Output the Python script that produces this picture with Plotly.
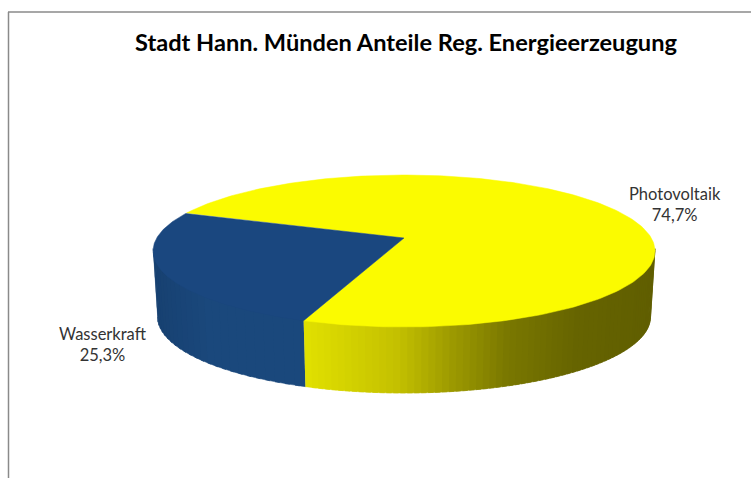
import numpy as np
import plotly.graph_objects as go

# Data
categories = ["Wasserkraft", "Photovoltaik"]
shares = [25.3, 74.7]
labels_de = ["25,3%", "74,7%"]
title_text = "Stadt Hann. Münden Anteile Reg. Energieerzeugung"

# Style / geometry of the 3D look (pixel canvas)
W, H = 751, 478
TOP = dict(cx=404.0, cy=251.0, rx=251.0, ry=76.0)
BOT = dict(cx=404.0, cy=317.0, rx=246.5, ry=76.0)
PERSP = 0.171            # shift of the pie centre towards the far edge
START = 159.0            # first slice start, degrees (counter-clockwise)
BLUE_TOP, YELLOW_TOP = "#1a477f", "#fbfb00"
BLUE_STOPS = [(150, (23, 64, 112)), (210, (26, 72, 124)), (305, (26, 72, 124))]
YELLOW_STOPS = [(303, (226, 226, 0)), (400, (196, 192, 0)), (450, (160, 157, 0)),
                (510, (122, 120, 0)), (580, (102, 100, 0)), (655, (96, 94, 0))]


def image_unit(theta_deg):
    """Circle point in the pie plane -> unit circle on screen, with perspective."""
    t = np.radians(theta_deg)
    u, v = np.cos(t), np.sin(t)
    d = 1 + PERSP * v
    return u * np.sqrt(1 - PERSP ** 2) / d, (v + PERSP) / d


def place(e, u, v):
    return e["cx"] + e["rx"] * u, e["cy"] - e["ry"] * v


def lerp_colour(stops, x):
    xs = [s[0] for s in stops]
    rgb = [np.interp(x, xs, [s[1][i] for s in stops]) for i in range(3)]
    return "rgb({:.0f},{:.0f},{:.0f})".format(*rgb)


fractions = np.array(shares) / sum(shares)
a0 = START
a1 = a0 + fractions[0] * 360
a2 = a1 + fractions[1] * 360

fig = go.Figure()


def add_poly(xs, ys, colour, width=0.5):
    fig.add_trace(go.Scatter(x=xs, y=ys, mode="lines", fill="toself", fillcolor=colour,
                             line=dict(color=colour, width=width), hoverinfo="skip",
                             showlegend=False))


# Side wall: sweep the visible front half of the rim on screen
ub, vb = image_unit(a1)
boundary = np.degrees(np.arctan2(vb, ub)) % 360
edges = np.concatenate([np.linspace(180, boundary, 26), np.linspace(boundary, 360, 71)[1:]])
for p, q in zip(edges[:-1], edges[1:]):
    is_blue = q <= boundary + 1e-9
    # each slice overlaps the next one, so no seam shows between them
    q_over = min(q + 1.2, boundary) if is_blue else min(q + 1.2, 360)
    seg = np.radians(np.linspace(p, q_over, 4))
    us, vs = np.cos(seg), np.sin(seg)
    tx, ty = place(TOP, us, vs)
    bx, by = place(BOT, us, vs)
    colour = lerp_colour(BLUE_STOPS if is_blue else YELLOW_STOPS, tx.mean())
    # the top edge runs under the top face, so no light rim shows between wall and face
    add_poly(np.r_[tx, bx[::-1]], np.r_[ty - 2.5, by[::-1]], colour)

# Top faces
apex = place(TOP, 0.0, PERSP)
for start, end, colour in [(a1, a2, YELLOW_TOP), (a0, a1, BLUE_TOP)]:
    th = np.linspace(start, end, 240)
    x, y = place(TOP, *image_unit(th))
    add_poly(np.r_[apex[0], x, apex[0]], np.r_[apex[1], y, apex[1]], colour)

annotations = [
    dict(x=406, y=42, text="<b>" + title_text + "</b>", font=dict(family="Lato", size=23.6, color="#000000")),
    dict(x=103, y=344, text=categories[0] + "<br>" + labels_de[0], font=dict(family="Lato", size=16.5, color="#333333")),
    dict(x=675, y=204.5, text=categories[1] + "<br>" + labels_de[1], font=dict(family="Lato", size=16.5, color="#333333")),
]
for a in annotations:
    a.update(xref="x", yref="y", showarrow=False, xanchor="center", yanchor="middle")

frame = "#8a8a8a"
fig.update_layout(
    width=W, height=H, margin=dict(l=0, r=0, t=0, b=0),
    paper_bgcolor="white", plot_bgcolor="white", showlegend=False,
    xaxis=dict(range=[0, W], visible=False, fixedrange=True),
    yaxis=dict(range=[H, 0], visible=False, fixedrange=True),
    annotations=annotations,
    shapes=[
        dict(type="line", x0=8.5, x1=8.5, y0=12, y1=H, line=dict(color=frame, width=1.5)),
        dict(type="line", x0=8, x1=W, y0=12, y1=12, line=dict(color=frame, width=1.5)),
    ],
)
fig.write_html("out.html", config=dict(displayModeBar=False),
               post_script="document.body.style.margin='0';document.documentElement.style.overflow='hidden';")
